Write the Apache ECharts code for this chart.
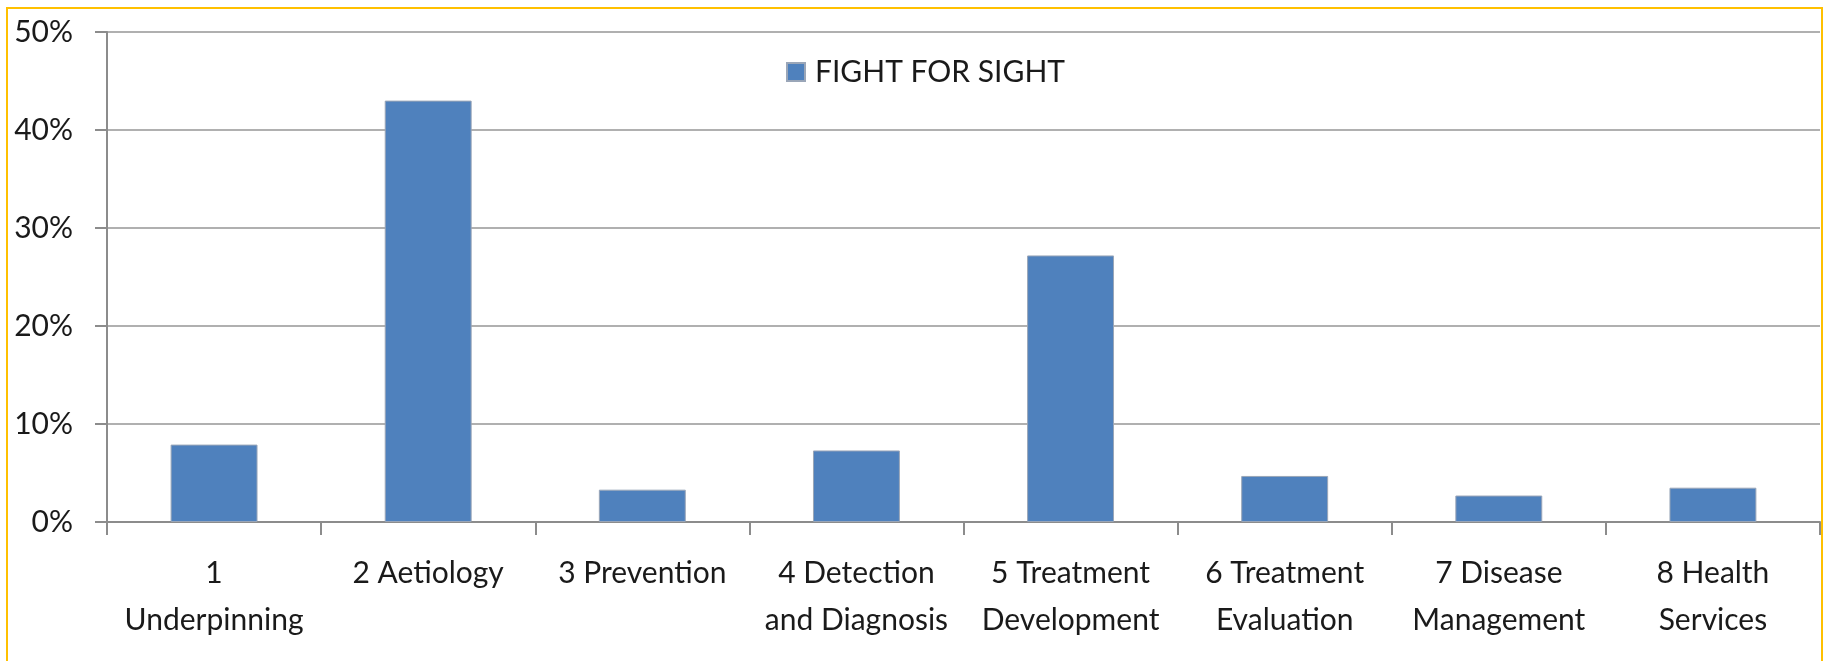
<!DOCTYPE html>
<html>
<head>
<meta charset="utf-8">
<script src="https://cdn.jsdelivr.net/npm/echarts@6/dist/echarts.min.js"></script>
<style>
  html, body { margin: 0; padding: 0; background: #fff; }
  #chart { width: 1823px; height: 661px; }
</style>
</head>
<body>
<div id="chart"></div>
<script>
var categories = ['1\nUnderpinning', '2 Aetiology', '3 Prevention', '4 Detection\nand Diagnosis',
    '5 Treatment\nDevelopment', '6 Treatment\nEvaluation', '7 Disease\nManagement', '8 Health\nServices'];
var fightForSight = [7.9, 43.0, 3.3, 7.3, 27.2, 4.7, 2.7, 3.5];
var seriesName = 'FIGHT FOR SIGHT';
var yTicks = { min: 0, max: 50, interval: 10 };

var chartDom = document.getElementById('chart');
var myChart = echarts.init(chartDom);
var font = 'Lato, "Open Sans", sans-serif';
var option = {
    animation: false,
    textStyle: { fontFamily: font },
    graphic: [{
        type: 'rect',
        shape: { x: 7, y: 8, width: 1815, height: 700 },
        style: { fill: 'none', stroke: '#ffc000', lineWidth: 2 },
        silent: true
    }],
    legend: {
        data: [seriesName],
        left: 781,
        top: 52,
        itemWidth: 18,
        itemHeight: 18,
        icon: 'rect',
        textStyle: { fontFamily: font, fontSize: 30, color: '#1a1a1a', padding: [0, 0, 0, 5] }
    },
    grid: {
        left: 107,
        right: 3,
        top: 32,
        bottom: 139
    },
    xAxis: {
        type: 'category',
        data: categories,
        axisLine: { lineStyle: { color: '#8c8c8c', width: 2 } },
        axisTick: { show: true, length: 13, lineStyle: { color: '#8c8c8c', width: 2 } },
        axisLabel: {
            interval: 0,
            margin: 28,
            fontSize: 30,
            lineHeight: 47,
            color: '#1a1a1a',
            fontFamily: font
        }
    },
    yAxis: {
        type: 'value',
        min: yTicks.min,
        max: yTicks.max,
        interval: yTicks.interval,
        axisLine: { show: true, lineStyle: { color: '#8c8c8c', width: 2 } },
        axisTick: { show: true, length: 12, lineStyle: { color: '#8c8c8c', width: 2 } },
        splitLine: { lineStyle: { color: '#b0b0b0', width: 2 } },
        axisLabel: {
            formatter: '{value}%',
            margin: 34,
            fontSize: 30,
            color: '#1a1a1a',
            fontFamily: font
        }
    },
    series: [{
        name: seriesName,
        type: 'bar',
        data: fightForSight,
        barWidth: '40.6%',
        itemStyle: { color: '#4f81bd', borderColor: '#9aa6b8', borderWidth: 1 }
    }]
};
option && myChart.setOption(option);
</script>
</body>
</html>
